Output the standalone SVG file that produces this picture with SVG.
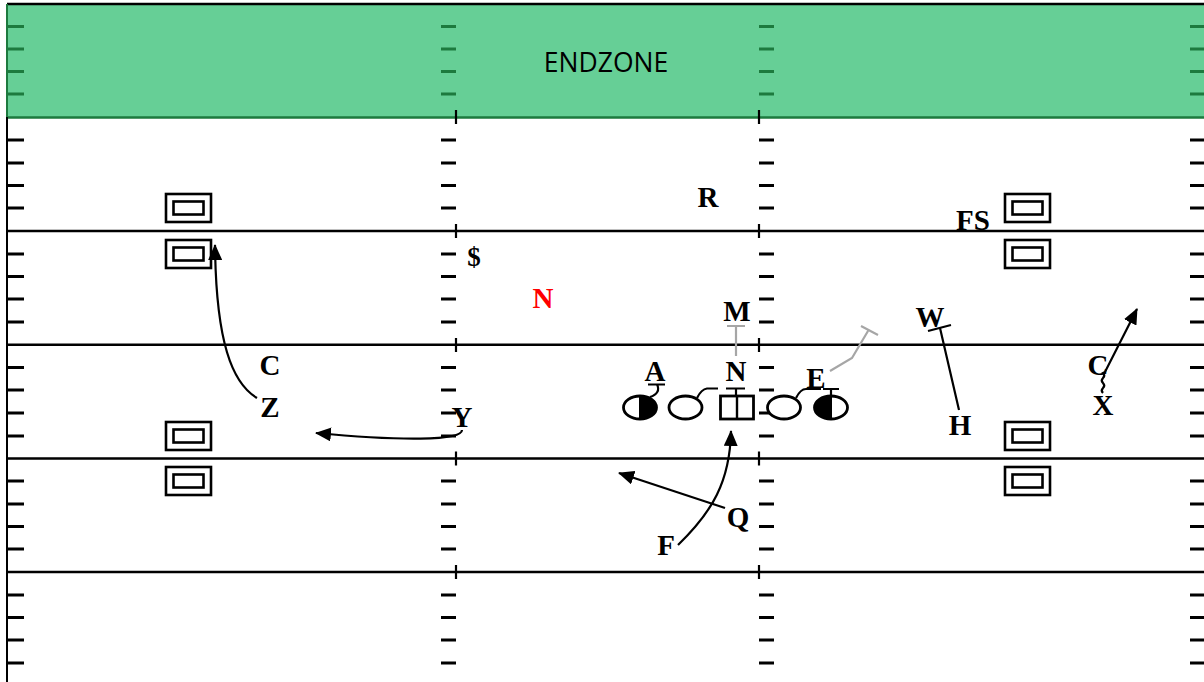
<svg xmlns="http://www.w3.org/2000/svg" width="1204" height="682" viewBox="0 0 1204 682">
<defs>
<style>
.yl{stroke:#000;stroke-width:2.4;fill:none}
.hz{stroke:#1d7a3e;stroke-width:2.8;fill:none}
.hf{stroke:#000;stroke-width:2.8;fill:none}
.tk{stroke:#000;stroke-width:2.2;fill:none}
.box{fill:#fff;stroke:#000;stroke-width:2.6}
.lbl{font-family:"Liberation Serif","Times New Roman",serif;font-weight:bold;font-size:29px;fill:#000;text-anchor:middle}
.ol{fill:#fff;stroke:#000;stroke-width:2.8}
.rt{stroke:#000;stroke-width:2.2;fill:none}
.gr{stroke:#a6a6a6;stroke-width:2.2;fill:none}
.bk{stroke:#000;stroke-width:2.2;fill:none}
</style>
<marker id="ah" markerWidth="16" markerHeight="14" refX="15" refY="7" orient="auto" markerUnits="userSpaceOnUse">
<path d="M0,0 L16,7 L0,14 Z" fill="#000"/>
</marker>
<g id="bx">
<rect class="box" x="0" y="0" width="45" height="28"/>
<rect class="box" x="7.5" y="7.5" width="30" height="13"/>
</g>
</defs>

<g id="field">
<rect x="0" y="0" width="1204" height="682" fill="#fff"/>
<rect x="7" y="4" width="1197" height="113.5" fill="#66cf96"/>
<line x1="7" y1="117.5" x2="1204" y2="117.5" stroke="#1d7a3e" stroke-width="2.6"/>
<line x1="7" y1="4" x2="1204" y2="4" stroke="#000" stroke-width="2.6"/>
<line x1="7" y1="4" x2="7" y2="682" stroke="#000" stroke-width="2"/>
<line x1="7" y1="4" x2="7" y2="117" stroke="#1d7a3e" stroke-width="2"/>
<path class="yl" d="M7,231 H1204 M7,344.8 H1204 M7,458.5 H1204 M7,572 H1204"/>
<path class="hz" d="M8,26.5h16M8,49h16M8,71.5h16M8,94h16 M441,26.5h15M441,49h15M441,71.5h15M441,94h15 M759,26.5h15M759,49h15M759,71.5h15M759,94h15 M1190,26.5h14M1190,49h14M1190,71.5h14M1190,94h14"/>
<path class="hf" d="M8,140h16M8,163h16M8,185.5h16M8,208h16M8,254h16M8,276.5h16M8,299h16M8,322h16M8,367.5h16M8,390h16M8,413h16M8,436h16M8,481h16M8,504h16M8,526.5h16M8,549h16M8,595h16M8,617.5h16M8,640h16M8,663h16"/>
<path class="hf" d="M441,140h15M441,163h15M441,185.5h15M441,208h15M441,254h15M441,276.5h15M441,299h15M441,322h15M441,367.5h15M441,390h15M441,413h15M441,436h15M441,481h15M441,504h15M441,526.5h15M441,549h15M441,595h15M441,617.5h15M441,640h15M441,663h15"/>
<path class="hf" d="M759,140h15M759,163h15M759,185.5h15M759,208h15M759,254h15M759,276.5h15M759,299h15M759,322h15M759,367.5h15M759,390h15M759,413h15M759,436h15M759,481h15M759,504h15M759,526.5h15M759,549h15M759,595h15M759,617.5h15M759,640h15M759,663h15"/>
<path class="hf" d="M1190,140h14M1190,163h14M1190,185.5h14M1190,208h14M1190,254h14M1190,276.5h14M1190,299h14M1190,322h14M1190,367.5h14M1190,390h14M1190,413h14M1190,436h14M1190,481h14M1190,504h14M1190,526.5h14M1190,549h14M1190,595h14M1190,617.5h14M1190,640h14M1190,663h14"/>
<path class="tk" d="M456,110v14M456,224v14M456,338v14M456,451.5v14M456,565v14 M759,110v14M759,224v14M759,338v14M759,451.5v14M759,565v14"/>
<text x="606" y="72" font-family="'Open Sans','Liberation Sans',sans-serif" font-size="26.5" fill="#000" text-anchor="middle">ENDZONE</text>
</g>

<g id="markers">
<use href="#bx" x="166" y="194"/>
<use href="#bx" x="166" y="240"/>
<use href="#bx" x="166" y="422"/>
<use href="#bx" x="166" y="467"/>
<use href="#bx" x="1005" y="194"/>
<use href="#bx" x="1005" y="240"/>
<use href="#bx" x="1005" y="422"/>
<use href="#bx" x="1005" y="467"/>
</g>

<g id="connectors">
<path class="rt" d="M257,398 C232,383 216,342 215,245" marker-end="url(#ah)"/>
<path class="rt" d="M462,430 C462,441 400,441 316,433" marker-end="url(#ah)"/>
<path class="rt" d="M678,545 C712,512 730,482 731,431" marker-end="url(#ah)"/>
<path class="rt" d="M725,508 L619,473" marker-end="url(#ah)"/>
<path class="rt" d="M1103,393 q-2.5,-2.5 0,-5 q2.5,-2.5 0,-5 q-2.5,-2.5 0,-5 q2.5,-2.5 0,-5 L1105,372 L1137,309" marker-end="url(#ah)"/>
<path class="rt" d="M959,410 L940,328 M928,331 L951,325"/>
<path class="gr" d="M736,356 L736,326 M727,326 L745,326"/>
<path class="gr" d="M830,371 L852,358 L868,331 M861,326 L878,335"/>
<path class="bk" d="M648,384.5 H665 M657,384.5 C660,390 657,395 650,397"/>
<path class="bk" d="M697,398 C700,392 703,389 707,388.5 H718"/>
<path class="bk" d="M726,388.5 H745 M736,388.5 V396"/>
<path class="bk" d="M796,398 C799,392 802,389 806,389 H821"/>
<path class="bk" d="M823,389 H839 M831,389 V396"/>
</g>

<g id="player-lt">
<ellipse class="ol" cx="640" cy="407.5" rx="16.5" ry="11.5"/>
<path d="M640,396 A16.5,11.5 0 0 1 640,419 Z" fill="#000"/>
<line x1="640" y1="396" x2="640" y2="419" stroke="#000" stroke-width="2"/>
</g>
<g id="player-lg"><ellipse class="ol" cx="685.5" cy="407.5" rx="16.5" ry="11.5"/></g>
<g id="player-c">
<rect class="ol" x="720.5" y="396" width="33" height="23"/>
<line x1="737" y1="396" x2="737" y2="419" stroke="#000" stroke-width="2.4"/>
</g>
<g id="player-rg"><ellipse class="ol" cx="784" cy="407.5" rx="16.5" ry="11.5"/></g>
<g id="player-rt">
<ellipse class="ol" cx="831" cy="407.5" rx="16.5" ry="11.5"/>
<path d="M831,396 A16.5,11.5 0 0 0 831,419 Z" fill="#000"/>
<line x1="831" y1="396" x2="831" y2="419" stroke="#000" stroke-width="2"/>
</g>

<g id="def-R"><text class="lbl" x="708" y="207">R</text></g>
<g id="def-FS"><text class="lbl" x="973" y="230">FS</text></g>
<g id="def-dollar"><text class="lbl" x="474" y="266" style="font-size:27px">$</text></g>
<g id="def-N-red"><text class="lbl" x="543" y="308" style="fill:#ff0000">N</text></g>
<g id="def-M"><text class="lbl" x="737" y="321">M</text></g>
<g id="def-N"><text class="lbl" x="736" y="381">N</text></g>
<g id="def-A"><text class="lbl" x="655" y="381">A</text></g>
<g id="def-E"><text class="lbl" x="816" y="388">E</text></g>
<g id="def-C-left"><text class="lbl" x="270" y="375">C</text></g>
<g id="off-Z"><text class="lbl" x="270" y="417">Z</text></g>
<g id="off-Y"><text class="lbl" x="462" y="427">Y</text></g>
<g id="def-W"><text class="lbl" x="930" y="327">W</text></g>
<g id="off-H"><text class="lbl" x="960" y="435">H</text></g>
<g id="def-C-right"><text class="lbl" x="1098" y="375">C</text></g>
<g id="off-X"><text class="lbl" x="1103" y="415">X</text></g>
<g id="off-Q"><text class="lbl" x="738" y="527">Q</text></g>
<g id="off-F"><text class="lbl" x="666" y="555">F</text></g>
</svg>
